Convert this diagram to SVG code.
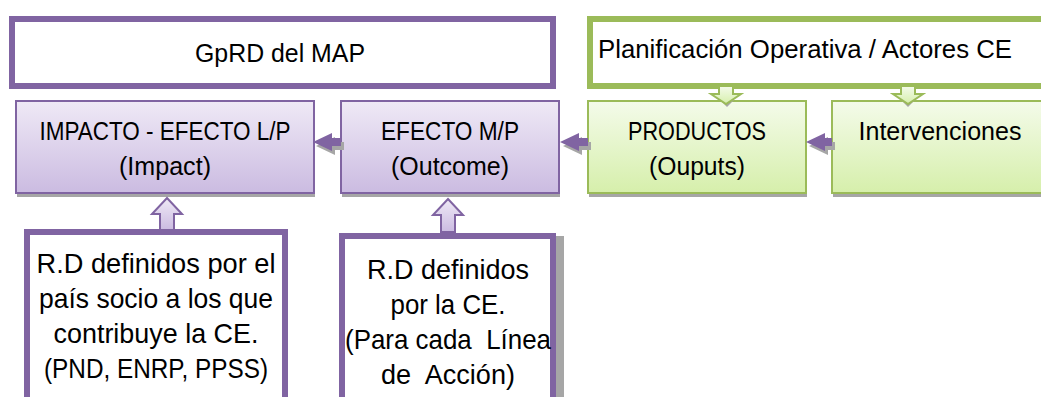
<svg xmlns="http://www.w3.org/2000/svg" width="1041" height="397" viewBox="0 0 1041 397">
<defs>
<linearGradient id="gp" x1="0" y1="0" x2="0" y2="1"><stop offset="0" stop-color="#EFE9F6"/><stop offset="1" stop-color="#CBBBE1"/></linearGradient>
<linearGradient id="gg" x1="0" y1="0" x2="0" y2="1"><stop offset="0" stop-color="#F4FBEA"/><stop offset="1" stop-color="#D6EFAB"/></linearGradient>
<style>
text{font-family:"Liberation Sans",Arial,sans-serif;fill:#000;text-anchor:middle}
.t1{font-size:26px}
.t2{font-size:25px}
.t3{font-size:27.5px}
.pb{fill:url(#gp);stroke:#8064A2;stroke-width:2}
.gb{fill:url(#gg);stroke:#9BBB59;stroke-width:2}
.pw{fill:#fff;stroke:#8064A2;stroke-width:6}
.gw{fill:#fff;stroke:#9BBB59;stroke-width:6}
.sh{fill:#A6A6A6}
.la{fill:#8064A2}
.ua{fill:url(#gp);stroke:#8064A2;stroke-width:2}
.da{fill:url(#gg);stroke:#9BBB59;stroke-width:2}
</style>
</defs>
<g id="gprd"><rect class="pw" x="12" y="19" width="541" height="67"/><text class="t1" x="280" y="62" textLength="170" lengthAdjust="spacingAndGlyphs">GpRD del MAP</text></g>
<g id="planificacion"><rect class="gw" x="590" y="19" width="470" height="67"/><text class="t1" x="598" y="58" style="text-anchor:start" textLength="414" lengthAdjust="spacingAndGlyphs">Planificación Operativa / Actores CE</text></g>
<g id="impacto"><rect class="sh" x="17" y="104" width="298" height="93"/><rect class="pb" x="16" y="101" width="298" height="92"/><text class="t2" x="165" y="140" textLength="251" lengthAdjust="spacingAndGlyphs">IMPACTO - EFECTO L/P</text><text class="t2" x="165" y="175" textLength="92" lengthAdjust="spacingAndGlyphs">(Impact)</text></g>
<g id="efecto"><rect class="sh" x="342" y="104" width="218" height="93"/><rect class="pb" x="341" y="101" width="218" height="92"/><text class="t2" x="450" y="140" textLength="138" lengthAdjust="spacingAndGlyphs">EFECTO M/P</text><text class="t2" x="450" y="175" textLength="118" lengthAdjust="spacingAndGlyphs">(Outcome)</text></g>
<g id="productos"><rect class="sh" x="589" y="104" width="218" height="93"/><rect class="gb" x="588" y="101" width="218" height="92"/><text class="t2" x="697" y="140" textLength="138" lengthAdjust="spacingAndGlyphs">PRODUCTOS</text><text class="t2" x="697" y="175" textLength="96" lengthAdjust="spacingAndGlyphs">(Ouputs)</text></g>
<g id="intervenciones"><rect class="sh" x="833" y="104" width="230" height="93"/><rect class="gb" x="832" y="101" width="230" height="92"/><text class="t2" x="940" y="140" textLength="163" lengthAdjust="spacingAndGlyphs">Intervenciones</text></g>
<g id="rd-pais"><rect class="pw" x="27" y="232" width="258" height="180"/><text class="t3" x="156" y="273" textLength="239" lengthAdjust="spacingAndGlyphs">R.D definidos por el</text><text class="t3" x="156" y="308" textLength="234" lengthAdjust="spacingAndGlyphs">país socio a los que</text><text class="t3" x="156" y="343" textLength="205" lengthAdjust="spacingAndGlyphs">contribuye la CE.</text><text class="t3" x="156" y="378" textLength="224" lengthAdjust="spacingAndGlyphs">(PND, ENRP, PPSS)</text></g>
<g id="rd-ce"><rect class="sh" x="556" y="236" width="8" height="170"/><rect class="pw" x="342" y="236" width="211" height="180"/><text class="t3" x="448" y="279" textLength="162" lengthAdjust="spacingAndGlyphs">R.D definidos</text><text class="t3" x="448" y="314" textLength="115" lengthAdjust="spacingAndGlyphs">por la CE.</text><text class="t3" x="448" y="349" xml:space="preserve" textLength="206" lengthAdjust="spacingAndGlyphs">(Para cada  Línea</text><text class="t3" x="448" y="384" xml:space="preserve" textLength="134" lengthAdjust="spacingAndGlyphs">de  Acción)</text></g>
<g id="connectors">
<polygon class="sh" points="316,146 335,137 335,142 344,142 344,150 335,150 335,155"/>
<polygon class="la" points="313,142 332,133 332,138 341,138 341,146 332,146 332,151"/>
<polygon class="sh" points="563,146 582,137 582,142 591,142 591,150 582,150 582,155"/>
<polygon class="la" points="560,142 579,133 579,138 588,138 588,146 579,146 579,151"/>
<polygon class="sh" points="809,146 828,137 828,142 835,142 835,150 828,150 828,155"/>
<polygon class="la" points="806,142 825,133 825,138 832,138 832,146 825,146 825,151"/>
<rect class="sh" x="161" y="226" width="14" height="4"/>
<polygon class="ua" points="167,198 182,214 174,214 174,230 160,230 160,214 152,214"/>
<rect class="sh" x="442" y="229" width="14" height="4"/>
<polygon class="ua" points="448,199 463,215 455,215 455,232 441,232 441,215 433,215"/>
<polygon class="sh" points="720,100 734,100 727,107"/>
<polygon class="da" points="719,86 733,86 733,94 741,94 726,104 711,94 719,94"/>
<polygon class="sh" points="901,100 915,100 908,107"/>
<polygon class="da" points="901,86 915,86 915,94 923,94 908,104 893,94 901,94"/>
</g>
</svg>
